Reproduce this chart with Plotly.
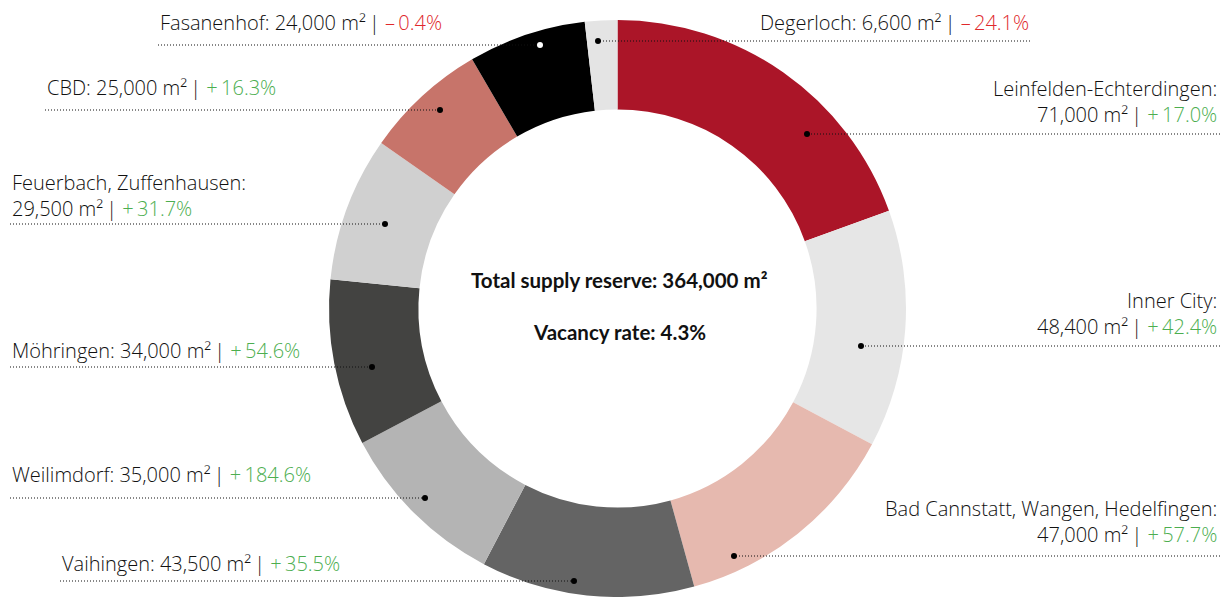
import plotly.graph_objects as go

# office space supply reserve by submarket
districts = ["Leinfelden-Echterdingen", "Inner City", "Bad Cannstatt, Wangen, Hedelfingen",
             "Vaihingen", "Weilimdorf", "Möhringen", "Feuerbach, Zuffenhausen",
             "CBD", "Fasanenhof", "Degerloch"]
space_m2 = [71000, 48400, 47000, 43500, 35000, 34000, 29500, 25000, 24000, 6600]
change_pct = [17.0, 42.4, 57.7, 35.5, 184.6, 54.6, 31.7, 16.3, -0.4, -24.1]
total_label = "364,000"
vacancy_label = "4.3%"

colors = ["#ab1528", "#e6e6e6", "#e6b9af", "#646464", "#b4b4b4",
          "#434341", "#d0d0d0", "#c7746a", "#000000", "#e4e4e4"]

# page has an 8px body margin, so the figure is shifted by that much
OFF = 8
W, H = 1231 - OFF, 597 - OFF
GREEN = "#4cae4f"
RED = "#e0282c"
TXT = "#111111"
FONT = "Open Sans"

# callout layout (screen pixels): text anchor x, side, text centre y, leader y, leader end x, dot x
callouts = {
    "Leinfelden-Echterdingen": dict(tx=1219, side="right", ty=101, ly=134, end=1220, dot=807, wrap=True),
    "Inner City": dict(tx=1219, side="right", ty=313, ly=346, end=1220, dot=861, wrap=True),
    "Bad Cannstatt, Wangen, Hedelfingen": dict(tx=1219, side="right", ty=521, ly=556, end=1220, dot=734, wrap=True),
    "Vaihingen": dict(tx=60, side="left", ty=563, ly=581, end=60, dot=574, wrap=False),
    "Weilimdorf": dict(tx=10, side="left", ty=474, ly=498, end=10, dot=425, wrap=False),
    "Möhringen": dict(tx=10, side="left", ty=350, ly=367, end=10, dot=372, wrap=False),
    "Feuerbach, Zuffenhausen": dict(tx=10, side="left", ty=195, ly=224, end=10, dot=385, wrap=True),
    "CBD": dict(tx=45, side="left", ty=88, ly=110, end=45, dot=440, wrap=False),
    "Fasanenhof": dict(tx=158, side="left", ty=22, ly=45, end=158, dot=540, wrap=False, dotcolor="white"),
    "Degerloch": dict(tx=1031, side="right", ty=22, ly=41, end=1030, dot=598, wrap=False),
}


def px(x):
    return (x - OFF) / W


def py(y):
    return 1 - (y - OFF) / H


top = 20
R = (597 - top) / 2
cx = 617.5

fig = go.Figure()
fig.add_trace(go.Pie(
    labels=districts, values=space_m2, sort=False, direction="clockwise", rotation=0,
    hole=0.69, marker=dict(colors=colors, line=dict(width=0)),
    textinfo="none", hoverinfo="label+value", showlegend=False,
    domain=dict(x=[px(cx - R), px(cx + R)], y=[0, py(top)]),
))

shapes = []
annotations = []
for name, val, chg in zip(districts, space_m2, change_pct):
    c = callouts[name]
    col = GREEN if chg >= 0 else RED
    sign = "+\u2009" if chg >= 0 else "\u2013\u2009"
    value_txt = f"{val:,} m²"
    tail = f"{value_txt}\u2009| <span style='color:{col}'>{sign}{abs(chg):.1f}%</span>"
    text = f"{name}:<br>{tail}" if c["wrap"] else f"{name}: {tail}"
    annotations.append(dict(
        x=px(c["tx"]), y=py(c["ty"]), xref="paper", yref="paper", text=text,
        showarrow=False, xanchor=c["side"], yanchor="middle", align=c["side"],
        font=dict(family=FONT, size=20, color=TXT, weight=300),
    ))
    shapes.append(dict(
        type="line", xref="paper", yref="paper",
        x0=px(c["end"]), x1=px(c["dot"]), y0=py(c["ly"]), y1=py(c["ly"]),
        line=dict(color="#111111", width=1.2, dash="1px,2px"),
    ))
    shapes.append(dict(
        type="circle", xref="paper", yref="paper", xsizemode="pixel", ysizemode="pixel",
        xanchor=px(c["dot"]), yanchor=py(c["ly"]), x0=-3, x1=3, y0=-3, y1=3,
        fillcolor=c.get("dotcolor", "black"), line=dict(width=0),
    ))

annotations.append(dict(
    x=px(619), y=py(280), xref="paper", yref="paper", showarrow=False,
    text=f"<b>Total supply reserve: {total_label} m²</b>",
    font=dict(family="Lato", size=20.5, color="#111111"),
))
annotations.append(dict(
    x=px(619), y=py(332), xref="paper", yref="paper", showarrow=False,
    text=f"<b>Vacancy rate: {vacancy_label}</b>",
    font=dict(family="Lato", size=20.5, color="#111111"),
))

fig.update_layout(
    width=W, height=H, margin=dict(l=0, r=0, t=0, b=0),
    paper_bgcolor="white", plot_bgcolor="white",
    shapes=shapes, annotations=annotations,
)
fig.write_html("out.html")
